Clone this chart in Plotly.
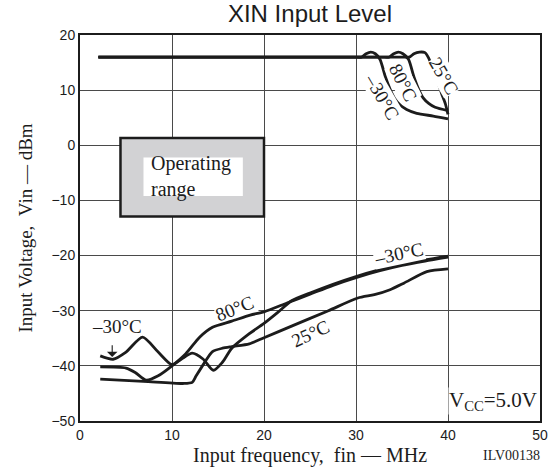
import plotly.graph_objects as go

# Upper group: maximum input level vs frequency (one trace per temperature)
hi_m30_x = [2, 10, 20, 29.8, 30.6, 31.1, 31.6, 32.1, 32.6, 33.2, 33.7, 34.2, 34.8, 35.5, 36.6, 38.4, 40]
hi_m30_y = [16, 16, 16, 16, 16, 16.6, 16.9, 16.6, 15.6, 12.4, 10.2, 8.5, 7.3, 6.5, 5.8, 5.3, 4.8]
hi_80_x = [2, 10, 20, 30, 32.8, 33.6, 34.1, 34.6, 35.1, 35.7, 36.3, 36.8, 37.3, 37.9, 38.6, 40]
hi_80_y = [16, 16, 16, 16, 16, 16, 16.6, 16.9, 16.6, 15.6, 12.4, 10.2, 8.6, 7.6, 6.9, 6.3]
hi_25_x = [2, 10, 20, 30, 35.0, 35.8, 36.3, 36.9, 37.5, 37.9, 38.4, 38.9, 39.3, 39.7, 40]
hi_25_y = [16, 16, 16, 16, 16, 16, 16.6, 16.9, 16.8, 15.8, 13.6, 11.4, 9.4, 7.6, 5.6]

# Lower group: minimum input level vs frequency
lo_m30_x = [2.2, 3.6, 5.0, 6.8, 8.5, 10.0, 11.0, 12.2, 13.4, 14.5, 15.5, 16.5, 18.3, 20.0,
            21.5, 23.0, 25.0, 27.5, 30.0, 32.5, 35.0, 37.5, 40.0]
lo_m30_y = [-38.2, -38.8, -37.5, -34.8, -37.5, -39.8, -38.8, -37.7, -38.8, -40.8, -39.3, -36.8,
            -34.3, -32.3, -30.3, -28.2, -26.8, -25.2, -23.8, -22.6, -21.6, -20.8, -20.1]
lo_80_x = [2.2, 5.0, 6.0, 7.2, 8.5, 10.0, 11.5, 13.0, 14.4, 16.5, 18.5, 20.0, 22.5, 25.0,
           27.5, 30.0, 32.5, 35.0, 37.5, 40.0]
lo_80_y = [-40.2, -40.4, -41.2, -42.6, -41.8, -40.0, -37.8, -34.8, -33.0, -31.9, -30.8, -30.2,
           -28.6, -27.0, -25.4, -24.0, -22.8, -21.8, -21.0, -20.3]
lo_25_x = [2.2, 6.9, 11.2, 12.2, 12.6, 13.5, 14.4, 15.5, 16.5, 18.4, 20.0, 23.0, 27.0, 30.2,
           32.0, 33.7, 35.2, 37.7, 40.0]
lo_25_y = [-42.4, -42.8, -43.2, -43.0, -41.9, -39.5, -37.4, -36.8, -36.5, -36.0, -34.9, -32.8,
           -30.0, -27.7, -27.1, -26.2, -25.0, -22.9, -22.4]

x_ticks = [0, 10, 20, 30, 40, 50]
y_ticks = [-50, -40, -30, -20, -10, 0, 10, 20]

SERIF = "Liberation Serif"
SANS = "Liberation Sans"
INK = "#1c1c1c"

fig = go.Figure()
for xs, ys in [(hi_m30_x, hi_m30_y), (hi_80_x, hi_80_y), (hi_25_x, hi_25_y),
               (lo_m30_x, lo_m30_y), (lo_80_x, lo_80_y), (lo_25_x, lo_25_y)]:
    fig.add_trace(go.Scatter(x=xs, y=ys, mode="lines",
                             line=dict(color=INK, width=2.8, shape="spline", smoothing=0.7),
                             showlegend=False, hoverinfo="skip"))

# Operating range box
fig.add_shape(type="rect", x0=4.4, x1=20.0, y0=-12.9, y1=1.3,
              fillcolor="#d2d2d4", line=dict(color=INK, width=2.5))
fig.add_shape(type="rect", x0=6.9, x1=17.7, y0=-9.2, y1=-2.2,
              fillcolor="white", line=dict(width=0))

# White gap in the -30 gridline behind the lower 80°C label
fig.add_shape(type="rect", x0=14.6, x1=19.4, y0=-30.5, y1=-29.5, layer="between",
              fillcolor="white", line=dict(width=0))

def label(text, x, y, angle=0, size=19, bg="white", **kw):
    fig.add_annotation(x=x, y=y, text=text, textangle=angle, showarrow=False,
                       font=dict(family=SERIF, size=size, color=INK),
                       bgcolor=bg, borderpad=0, **kw)

label("Operating<br>range", 7.6, -5.7, size=20, align="left", xanchor="left", bg="rgba(0,0,0,0)")

# Temperature labels, upper group
label("25°C", 39.5, 12.6, angle=60)
label("80°C", 35.1, 11.3, angle=63)
label("–30°C", 32.8, 8.8, angle=60)

# Temperature labels, lower group
label("80°C", 16.8, -29.6, angle=-22, bg="rgba(0,0,0,0)")
label("25°C", 25.1, -34.2, angle=-25)
label("–30°C", 34.7, -19.7, angle=-12)
label("–30°C", 4.0, -32.8, bg="rgba(0,0,0,0)")
fig.add_annotation(x=3.5, y=-38.4, ax=3.5, ay=-36.0, xref="x", yref="y", axref="x", ayref="y",
                   text="", showarrow=True, arrowhead=1, arrowsize=1.6, arrowwidth=1.1,
                   arrowcolor=INK)

label("V<sub>CC</sub>=5.0V", 44.9, -46.4, size=21)

# Axis titles and reference code
fig.add_annotation(xref="paper", yref="paper", x=0.5, y=-0.09, xanchor="center", yanchor="middle",
                   text="Input frequency,\u00a0\u00a0fin — MHz", showarrow=False,
                   font=dict(family=SERIF, size=20, color=INK))
fig.add_annotation(xref="paper", yref="paper", x=-0.1204, y=0.5, xanchor="center",
                   yanchor="middle", textangle=-90,
                   text="Input Voltage,\u00a0\u00a0Vin — dBm", showarrow=False,
                   font=dict(family=SERIF, size=19, color=INK))
fig.add_annotation(xref="paper", yref="paper", x=0.939, y=-0.09, xanchor="center",
                   yanchor="middle", text="ILV00138", showarrow=False,
                   font=dict(family=SERIF, size=14, color=INK))

axis_common = dict(showgrid=True, gridcolor="#4a4a4a", gridwidth=1, zeroline=False,
                   showline=True, mirror=True, linecolor=INK, linewidth=2,
                   ticks="", tickfont=dict(family=SANS, size=14, color=INK))

fig.update_layout(
    width=560, height=470,
    margin=dict(l=80, r=15, t=35, b=49),
    paper_bgcolor="white", plot_bgcolor="white",
    title=dict(text="XIN Input Level", x=0.5, xref="paper", y=0.972, yref="container",
               yanchor="middle", font=dict(family=SANS, size=24, color=INK)),
    xaxis=dict(range=[0, 50], tickvals=x_ticks, **axis_common),
    yaxis=dict(range=[-50, 20], tickvals=y_ticks, **axis_common),
)

fig.write_html("out.html")
